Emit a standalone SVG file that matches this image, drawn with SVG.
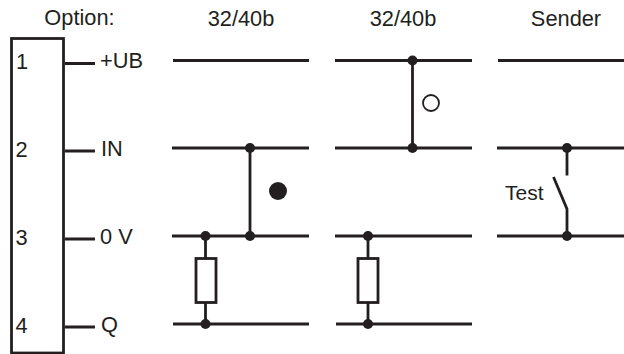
<svg xmlns="http://www.w3.org/2000/svg" width="624" height="354" viewBox="0 0 624 354">
<style>
text{font-family:"Liberation Sans",Arial,sans-serif;font-size:21.8px;fill:#231f20}
.l{fill:none;stroke:#231f20;stroke-width:2.8}
.t{fill:none;stroke:#231f20;stroke-width:2.8}
.d{fill:#231f20}
</style>
<rect width="624" height="354" fill="#fff"/>
<g id="header">
<text x="79.500" y="25" text-anchor="middle">Option:</text>
<text x="241" y="26" text-anchor="middle">32/40b</text>
<text x="403" y="26" text-anchor="middle">32/40b</text>
<text x="566" y="26" text-anchor="middle">Sender</text>
</g>
<g id="connector-block">
<rect class="l" x="11.500" y="38.500" width="52" height="314.500"/>
<text x="16" y="69">1</text>
<text x="15.500" y="157">2</text>
<text x="15.500" y="245">3</text>
<text x="15.500" y="333">4</text>
</g>
<g id="pin-labels">
<text x="100" y="68">+UB</text>
<text x="101" y="156">IN</text>
<text x="100" y="244">0 V</text>
<text x="101" y="332">Q</text>
</g>
<g id="connectors">
<path class="l" d="M65 63.500H95M65 151H95M65 239H95M65 327H95"/>
<path class="l" d="M173 60.500H309M172 148H309M172 236H309M173 324H309"/>
<path class="l" d="M335 60.500H472M335 148H472M335 236H472M336 324H472"/>
<path class="l" d="M498 60.500H624M497 148H624M497 236H624"/>
<path class="l" d="M250 148V236M412.500 60.500V148"/>
<path class="t" d="M205.500 236V259M205.500 303V324M368 236V259M368 303V324"/>
<path class="l" d="M567 148V175.500M553.500 177L567 209V236"/>
</g>
<g id="resistor-1"><rect class="t" x="196" y="258.500" width="20" height="44"/></g>
<g id="resistor-2"><rect class="t" x="358" y="258.500" width="20" height="44"/></g>
<g id="junctions">
<circle class="d" cx="250" cy="148" r="5"/><circle class="d" cx="250" cy="236" r="5"/>
<circle class="d" cx="205.500" cy="236" r="5"/><circle class="d" cx="205.500" cy="324" r="5"/>
<circle class="d" cx="412.500" cy="60.500" r="5"/><circle class="d" cx="412.500" cy="148" r="5"/>
<circle class="d" cx="368" cy="236" r="5"/><circle class="d" cx="368" cy="324" r="5"/>
<circle class="d" cx="567" cy="148" r="5"/><circle class="d" cx="567" cy="236" r="5"/>
</g>
<g id="indicator-filled"><circle class="d" cx="278" cy="191" r="9"/></g>
<g id="indicator-open"><circle cx="431" cy="103" r="8" fill="none" stroke="#231f20" stroke-width="1.800"/></g>
<g id="test-label"><text x="505" y="199.500" style="font-size:21px">Test</text></g>
</svg>
